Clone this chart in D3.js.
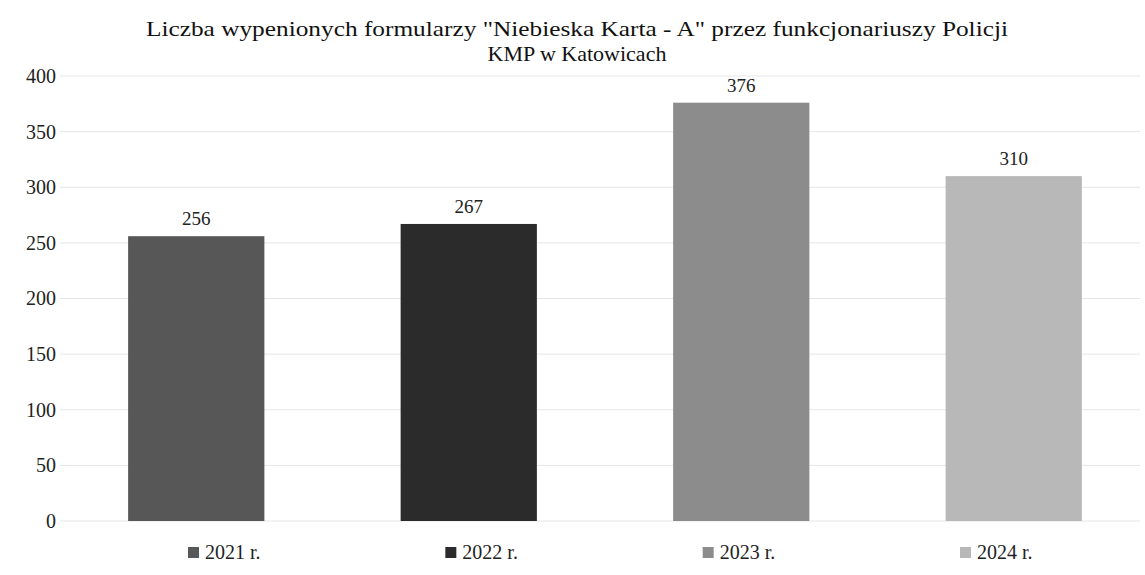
<!DOCTYPE html>
<html>
<head>
<meta charset="utf-8">
<script src="https://cdn.jsdelivr.net/npm/d3@7"></script>
<style>
  body { margin: 0; background: #fff; }
  svg { font-family: "Liberation Serif", "DejaVu Serif", serif; }
</style>
</head>
<body>
<div id="chart"></div>
<script>
  // chart data
  const years = ["2021 r.", "2022 r.", "2023 r.", "2024 r."];
  const counts = [256, 267, 376, 310];
  const colors = ["#575757", "#2b2b2b", "#8c8c8c", "#b8b8b8"];
  const yTicks = [0, 50, 100, 150, 200, 250, 300, 350, 400];
  const titleLines = [
    "Liczba wypenionych formularzy \"Niebieska Karta - A\" przez funkcjonariuszy Policji",
    "KMP w Katowicach"
  ];

  const width = 1145, height = 575;
  const margin = {top: 76, right: 0, bottom: 54, left: 60};

  const svg = d3.select("#chart").append("svg")
    .attr("width", width)
    .attr("height", height);

  const x = d3.scaleBand()
    .domain(years)
    .range([margin.left, width - margin.right + 5])
    .paddingInner(0.5)
    .paddingOuter(0.25);

  const y = d3.scaleLinear()
    .domain([0, 400])
    .range([height - margin.bottom, margin.top]);

  // legend sits a bit tighter than the bars
  const legendX = d3.scalePoint()
    .domain(years)
    .range([188, 960]);

  // gridlines
  svg.append("g")
    .selectAll("line")
    .data(yTicks)
    .join("line")
    .attr("x1", margin.left)
    .attr("x2", width - 5)
    .attr("y1", d => y(d))
    .attr("y2", d => y(d))
    .attr("stroke", "#e6e6e6")
    .attr("stroke-width", 1);

  // y axis labels
  const yAxis = svg.append("g")
    .attr("transform", `translate(${margin.left - 4},0)`)
    .call(d3.axisLeft(y).tickValues(yTicks).tickSize(0).tickPadding(0));
  yAxis.select(".domain").remove();
  yAxis.selectAll("text")
    .style("font-family", "Liberation Serif, serif")
    .style("font-size", "20px")
    .attr("fill", "#222");

  // bars
  svg.append("g")
    .selectAll("rect")
    .data(counts)
    .join("rect")
    .attr("x", (d, i) => x(years[i]))
    .attr("y", d => y(d))
    .attr("width", x.bandwidth())
    .attr("height", d => y(0) - y(d))
    .attr("fill", (d, i) => colors[i]);

  // value labels
  svg.append("g")
    .selectAll("text")
    .data(counts)
    .join("text")
    .attr("x", (d, i) => x(years[i]) + x.bandwidth() / 2)
    .attr("y", d => y(d) - 11)
    .attr("text-anchor", "middle")
    .attr("font-size", "19px")
    .attr("fill", "#222")
    .text(d => d);

  // legend under each bar
  const legend = svg.append("g")
    .selectAll("g")
    .data(years)
    .join("g")
    .attr("transform", d => `translate(${legendX(d)},${height - 16})`);
  legend.append("rect")
    .attr("x", 0)
    .attr("y", -12)
    .attr("width", 11)
    .attr("height", 11)
    .attr("fill", (d, i) => colors[i]);
  legend.append("text")
    .attr("x", 17)
    .attr("y", 0)
    .attr("font-size", "20px")
    .attr("fill", "#222")
    .text(d => d);

  // title
  svg.append("g")
    .selectAll("text")
    .data(titleLines)
    .join("text")
    .attr("x", 577)
    .attr("y", (d, i) => 36 + i * 25)
    .attr("text-anchor", "middle")
    .attr("font-size", "22px")
    .attr("textLength", (d, i) => i === 0 ? 862 : null)
    .attr("lengthAdjust", "spacingAndGlyphs")
    .attr("fill", "#111")
    .text(d => d);
</script>
</body>
</html>
